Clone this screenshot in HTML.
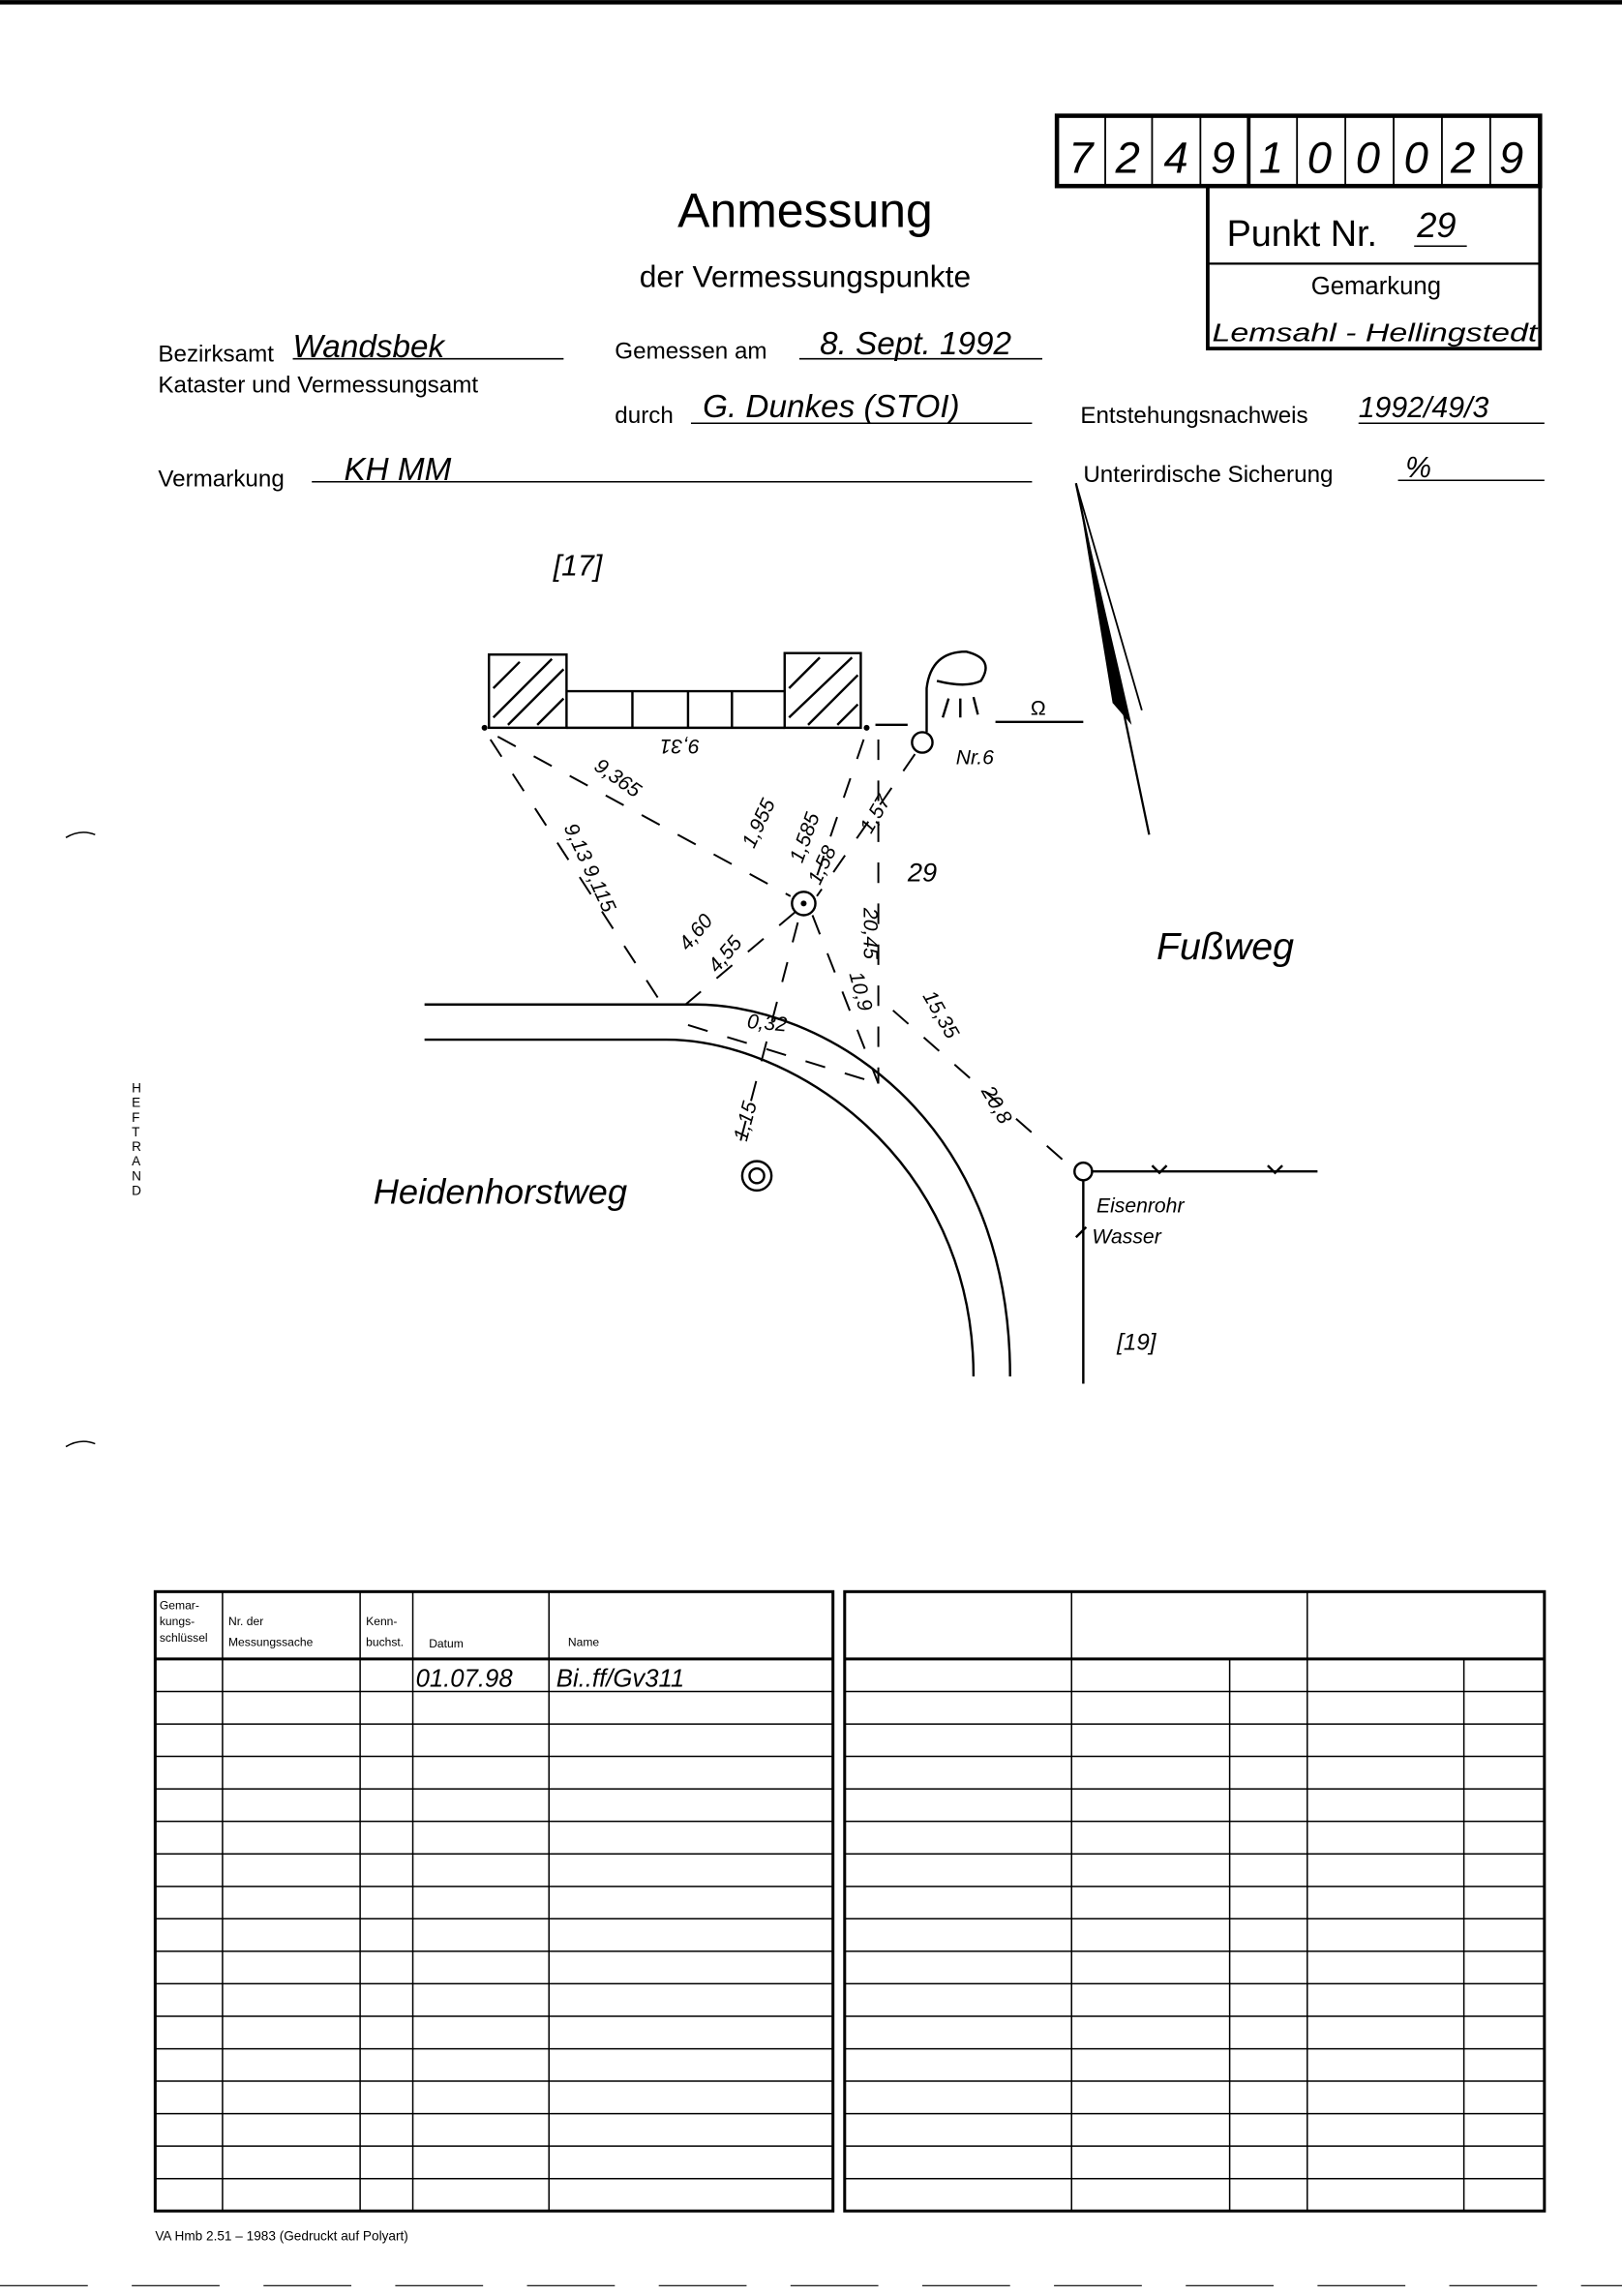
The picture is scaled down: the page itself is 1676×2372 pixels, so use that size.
<!DOCTYPE html>
<html><head><meta charset="utf-8"><style>
html,body{margin:0;padding:0;background:#fff}
svg{display:block}
text{font-family:"Liberation Sans",sans-serif;fill:#000}
.h{font-family:"Liberation Sans",sans-serif;font-style:italic}
</style></head><body>
<svg width="1676" height="2372" viewBox="0 0 1108 1568" xmlns="http://www.w3.org/2000/svg">
<rect x="0" y="0" width="1108" height="1568" fill="#fff"/>
<rect x="0" y="0" width="1108" height="3" fill="#000"/>
<!-- number box -->
<rect x="722" y="79" width="330" height="48" fill="none" stroke="#000" stroke-width="3"/>
<g stroke="#000" stroke-width="1.2">
<line x1="755" y1="79" x2="755" y2="127"/><line x1="787" y1="79" x2="787" y2="127"/><line x1="820" y1="79" x2="820" y2="127"/>
<line x1="853" y1="79" x2="853" y2="127" stroke-width="2.5"/><line x1="886" y1="79" x2="886" y2="127"/><line x1="919" y1="79" x2="919" y2="127"/>
<line x1="952" y1="79" x2="952" y2="127"/><line x1="985" y1="79" x2="985" y2="127"/><line x1="1018" y1="79" x2="1018" y2="127"/>
</g>
<g class="h" font-size="30" font-weight="normal">
<text x="730" y="118" class="h">7</text><text x="762" y="118" class="h">2</text><text x="795" y="118" class="h">4</text><text x="827" y="118" class="h">9</text><text x="860" y="118" class="h">1</text><text x="893" y="118" class="h">0</text><text x="926" y="118" class="h">0</text><text x="959" y="118" class="h">0</text><text x="991" y="118" class="h">2</text><text x="1024" y="118" class="h">9</text>
</g>
<rect x="825" y="127" width="227" height="111" fill="none" stroke="#000" stroke-width="2.5"/>
<line x1="825" y1="180" x2="1052" y2="180" stroke="#000" stroke-width="1.5"/>
<text x="838" y="168" font-size="25">Punkt Nr.</text>
<text x="968" y="162" font-size="24" class="h">29</text>
<line x1="966" y1="168" x2="1002" y2="168" stroke="#000"/>
<text x="940" y="201" font-size="17" text-anchor="middle">Gemarkung</text>
<text x="828" y="233" font-size="17" class="h" textLength="222" lengthAdjust="spacingAndGlyphs">Lemsahl - Hellingstedt</text>
<!-- titles -->
<text x="550" y="155" font-size="33" text-anchor="middle">Anmessung</text>
<text x="550" y="196" font-size="21" text-anchor="middle">der Vermessungspunkte</text>
<text x="108" y="247" font-size="16">Bezirksamt</text>
<text x="200" y="244" font-size="22" class="h">Wandsbek</text>
<line x1="200" y1="245" x2="385" y2="245" stroke="#000"/>
<text x="108" y="268" font-size="16">Kataster und Vermessungsamt</text>
<text x="420" y="245" font-size="16">Gemessen am</text>
<text x="560" y="242" font-size="22" class="h">8. Sept. 1992</text>
<line x1="546" y1="245" x2="712" y2="245" stroke="#000"/>
<text x="420" y="289" font-size="16">durch</text>
<text x="480" y="285" font-size="22" class="h">G. Dunkes (STOI)</text>
<line x1="472" y1="289" x2="705" y2="289" stroke="#000"/>
<text x="738" y="289" font-size="16">Entstehungsnachweis</text>
<text x="928" y="285" font-size="20" class="h">1992/49/3</text>
<line x1="928" y1="289" x2="1055" y2="289" stroke="#000"/>
<text x="108" y="332" font-size="16">Vermarkung</text>
<text x="235" y="328" font-size="22" class="h">KH  MM</text>
<line x1="213" y1="329" x2="705" y2="329" stroke="#000"/>
<text x="740" y="329" font-size="16">Unterirdische Sicherung</text>
<text x="960" y="326" font-size="20" class="h">%</text>
<line x1="955" y1="328" x2="1055" y2="328" stroke="#000"/>
<!-- north arrow -->
<line x1="735" y1="330" x2="785" y2="570" stroke="#000" stroke-width="1.5"/>
<line x1="735" y1="330" x2="780" y2="485" stroke="#000" stroke-width="1.2"/>
<polygon points="737,340 760,480 773,495 765,460" fill="#000"/>
<!-- margin -->
<g font-size="9"><text x="90" y="746">H</text><text x="90" y="756">E</text><text x="90" y="766">F</text><text x="90" y="776">T</text><text x="90" y="786">R</text><text x="90" y="796">A</text><text x="90" y="806">N</text><text x="90" y="816">D</text></g>
<path d="M45 572 Q55 566 65 570" fill="none" stroke="#000"/>
<path d="M45 988 Q55 982 65 986" fill="none" stroke="#000"/>
<!-- sketch -->
<text x="378" y="393" font-size="20" class="h">[17]</text>
<g stroke="#000" stroke-width="1.6" fill="none">
<rect x="334" y="447" width="53" height="50"/>
<rect x="536" y="446" width="52" height="51"/>
<path d="M387 472 H536 M387 497 H536 M432 472 V497 M470 472 V497 M500 472 V497"/>
<path d="M337 470 L355 452 M337 490 L377 450 M347 495 L385 457 M367 495 L385 477 M539 470 L560 449 M539 490 L582 449 M552 495 L586 461 M572 495 L586 481"/>
<path d="M598 495 H620 M680 493 H740"/>
<path d="M633 500 V470 Q636 445 660 445 Q680 450 670 465 Q660 470 640 465"/>
<path d="M644 490 L648 477 M656 490 L656 477 M668 488 L665 476"/>
<circle cx="630" cy="507" r="7"/>
<circle cx="549" cy="617" r="8"/>
<circle cx="517" cy="803" r="10"/><circle cx="517" cy="803" r="5"/>
<circle cx="740" cy="800" r="6"/>
<!-- road -->
<path d="M290 686 H475 C560 686 690 760 690 940"/>
<path d="M290 710 H455 C540 710 665 790 665 940"/>
<path d="M740 806 V945 M746 800 H900 M742 838 L735 845"/>
<path d="M787 796 L792 801 L797 796 M866 796 L871 801 L876 796"/>
</g>
<circle cx="331" cy="497" r="2"/><circle cx="592" cy="497" r="2"/><circle cx="549" cy="617" r="2"/>
<g stroke="#000" stroke-width="1.3" stroke-dasharray="14,14" fill="none">
<line x1="335" y1="505" x2="455" y2="690"/>
<line x1="340" y1="503" x2="540" y2="612"/>
<line x1="590" y1="505" x2="554" y2="610"/>
<line x1="600" y1="505" x2="600" y2="740"/>
<line x1="625" y1="515" x2="558" y2="612"/>
<line x1="543" y1="623" x2="460" y2="693"/>
<line x1="555" y1="625" x2="600" y2="740"/>
<line x1="610" y1="690" x2="735" y2="800"/>
<line x1="545" y1="630" x2="503" y2="790"/>
<line x1="470" y1="700" x2="600" y2="740"/>
</g>
<g font-size="14" class="h">
<text transform="translate(478,505) rotate(180)">9,31</text>
<text transform="translate(405,525) rotate(35)">9,365</text>
<text transform="translate(385,565) rotate(65)">9,13  9,115</text>
<text transform="translate(470,650) rotate(-50)">4,60</text>
<text transform="translate(490,665) rotate(-50)">4,55</text>
<text transform="translate(515,580) rotate(-65)">1,955</text>
<text transform="translate(548,590) rotate(-70)">1,585</text>
<text transform="translate(560,605) rotate(-65)">1,58</text>
<text transform="translate(595,570) rotate(-60)">1,57</text>
<text transform="translate(590,620) rotate(90)">20,45</text>
<text transform="translate(580,665) rotate(75)">10,9</text>
<text transform="translate(630,680) rotate(60)">15,35</text>
<text transform="translate(670,745) rotate(60)">20,8</text>
<text transform="translate(510,702) rotate(5)">0,32</text>
<text transform="translate(510,780) rotate(-75)">1,15</text>
</g>
<text x="620" y="602" font-size="18" class="h">29</text>
<text x="653" y="522" font-size="14" class="h">Nr.6</text>
<text x="704" y="488" font-size="14">Ω</text>
<text x="790" y="655" font-size="26" class="h">Fußweg</text>
<text x="255" y="822" font-size="24" class="h">Heidenhorstweg</text>
<text x="749" y="828" font-size="14" class="h">Eisenrohr</text>
<text x="746" y="849" font-size="14" class="h">Wasser</text>
<text x="763" y="922" font-size="16" class="h">[19]</text>
<!-- left table -->
<g stroke="#000" fill="none">
<rect x="106" y="1087" width="463" height="423" stroke-width="2"/>
<line x1="106" y1="1133" x2="569" y2="1133" stroke-width="2"/>
<path d="M152 1087 V1510 M246 1087 V1510 M282 1087 V1510 M375 1087 V1510" stroke-width="1"/>
<rect x="577" y="1087" width="478" height="423" stroke-width="2"/>
<line x1="577" y1="1133" x2="1055" y2="1133" stroke-width="2"/>
<path d="M732 1087 V1510 M893 1087 V1510 M840 1133 V1510 M1000 1133 V1510" stroke-width="1"/>
<path stroke-width="1" d="M106 1155.2H569M106 1177.4H569M106 1199.5H569M106 1221.7H569M106 1243.9H569M106 1266.1H569M106 1288.3H569M106 1310.4H569M106 1332.6H569M106 1354.8H569M106 1377H569M106 1399.2H569M106 1421.3H569M106 1443.5H569M106 1465.7H569M106 1487.9H569
M577 1155.2H1055M577 1177.4H1055M577 1199.5H1055M577 1221.7H1055M577 1243.9H1055M577 1266.1H1055M577 1288.3H1055M577 1310.4H1055M577 1332.6H1055M577 1354.8H1055M577 1377H1055M577 1399.2H1055M577 1421.3H1055M577 1443.5H1055M577 1465.7H1055M577 1487.9H1055"/>
</g>
<g font-size="8">
<text x="109" y="1099">Gemar-</text><text x="109" y="1110">kungs-</text><text x="109" y="1121">schlüssel</text>
<text x="156" y="1110">Nr. der</text><text x="156" y="1124">Messungssache</text>
<text x="250" y="1110">Kenn-</text><text x="250" y="1124">buchst.</text>
<text x="293" y="1125">Datum</text><text x="388" y="1124">Name</text>
</g>
<text x="284" y="1152" font-size="17" class="h">01.07.98</text>
<text x="380" y="1152" font-size="17" class="h">Bi..ff/Gv311</text>
<text x="106" y="1530" font-size="9">VA Hmb 2.51 – 1983 (Gedruckt auf Polyart)</text>
<line x1="0" y1="1561" x2="1108" y2="1561" stroke="#000" stroke-width="0.8" stroke-dasharray="60,30"/>
</svg>
</body></html>
